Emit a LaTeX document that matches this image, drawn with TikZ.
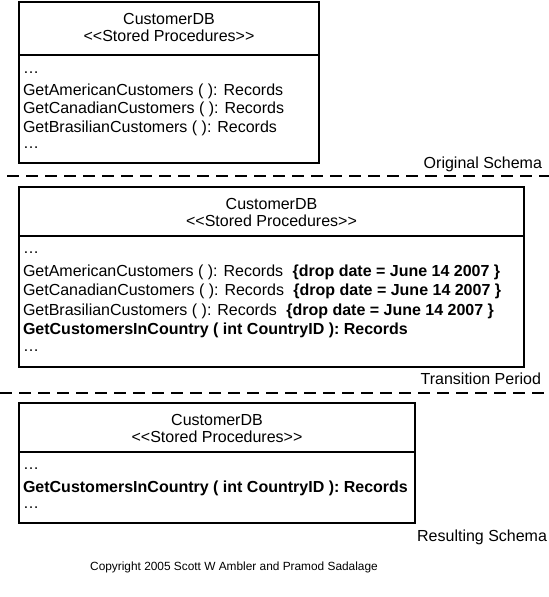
\documentclass[tikz,border=0pt]{standalone}
\usepackage{fontspec}
\setmainfont{Liberation Sans}
\usetikzlibrary{positioning}

% keep << and >> from turning into guillemets
\newcommand{\stereotype}[1]{<\kern0pt<#1>\kern0pt>}
\newcommand{\dropdate}{\hspace{7pt}\textbf{\{drop date = June 14 2007 \}}}

\begin{document}
\begin{tikzpicture}[x=0.75pt, y=-0.75pt,
  every node/.style={inner sep=0pt, outer sep=0pt, font=\fontsize{12}{14}\selectfont},
  umlbox/.style={draw, line width=1.1pt, anchor=north west},
  divider/.style={line width=1.1pt},
  title/.style={anchor=base},
  op/.style={anchor=base west},
  phase/.style={anchor=base east},
  cutline/.style={line width=1.3pt, dash pattern=on 9pt off 5.25pt}]
  \useasboundingbox (0,0) rectangle (549,597);

  % original schema
  \node[umlbox, minimum width=225pt, minimum height=120.75pt] (db1) at (19,2) {};
  \draw[divider] (db1.west |- 0,55) -- (db1.east |- 0,55);
  \node[title] (db1name) at (169,24) {CustomerDB};
  \node[title] (db1kind) at (169,41) {\stereotype{Stored Procedures}};
  \foreach \y/\t [count=\i] in {73/\dots,
      95/GetAmericanCustomers ( ): Records,
      113.5/GetCanadianCustomers ( ): Records,
      132/GetBrasilianCustomers ( ): Records,
      148/\dots}
    \node[op] (orig\i) at (23,\y) {\t};
  \node[phase] (origlabel) at (542,168.5) {Original Schema};

  \coordinate (cut1w) at (7,176);
  \coordinate (cut1e) at (549,176);
  \draw[cutline] (cut1w) -- (cut1e);

  % transition period
  \node[umlbox, minimum width=378.75pt, minimum height=135pt] (db2) at (19,187) {};
  \draw[divider] (db2.west |- 0,236) -- (db2.east |- 0,236);
  \node[title] (db2name) at (271.5,209) {CustomerDB};
  \node[title] (db2kind) at (271.5,226) {\stereotype{Stored Procedures}};
  \foreach \y/\t [count=\i] in {253/\dots,
      276.5/GetAmericanCustomers ( ): Records\dropdate,
      295.5/GetCanadianCustomers ( ): Records\dropdate,
      315/GetBrasilianCustomers ( ): Records\dropdate,
      334.5/\textbf{GetCustomersInCountry ( int CountryID ): Records},
      351/\dots}
    \node[op] (trans\i) at (23,\y) {\t};
  \node[phase] (translabel) at (541,384) {Transition Period};

  \coordinate (cut2w) at (0,393);
  \coordinate (cut2e) at (549,393);
  \draw[cutline] (cut2w) -- (cut2e);

  % resulting schema
  \node[umlbox, minimum width=297pt, minimum height=90pt] (db3) at (19,403) {};
  \draw[divider] (db3.west |- 0,452) -- (db3.east |- 0,452);
  \node[title] (db3name) at (217,425) {CustomerDB};
  \node[title] (db3kind) at (217,442) {\stereotype{Stored Procedures}};
  \foreach \y/\t [count=\i] in {469/\dots,
      492.5/\textbf{GetCustomersInCountry ( int CountryID ): Records},
      508/\dots}
    \node[op] (res\i) at (23,\y) {\t};
  \node[phase] (reslabel) at (547,541.5) {Resulting Schema};

  \node[anchor=base, font=\fontsize{8.9}{11}\selectfont] (copyright) at (234,570)
    {Copyright 2005 Scott W Ambler and Pramod Sadalage};
\end{tikzpicture}
\end{document}
